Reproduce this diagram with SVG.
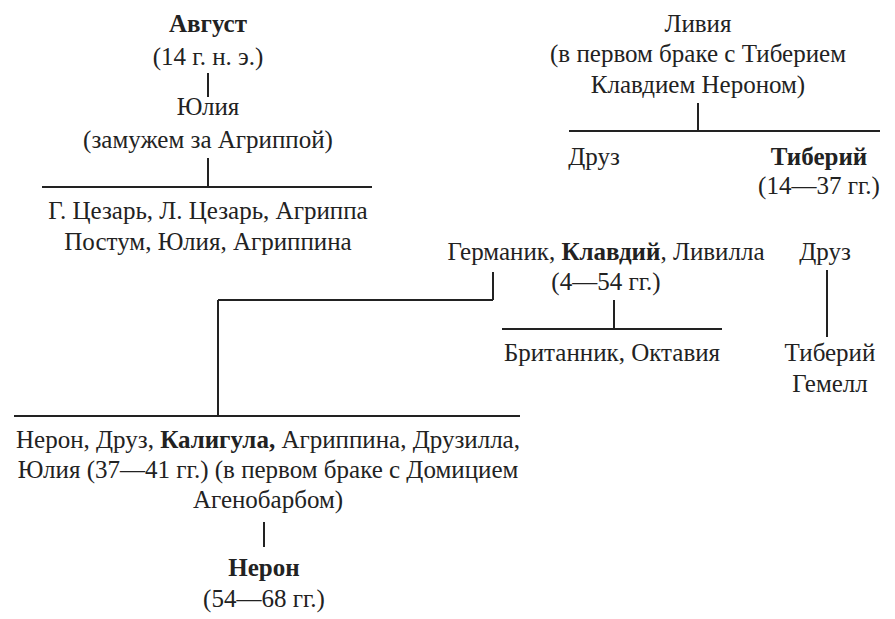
<svg xmlns="http://www.w3.org/2000/svg" width="895" height="619" viewBox="0 0 895 619">
<style>
text{font-family:"Liberation Serif","Times New Roman",serif;font-size:25px;fill:#222;text-anchor:middle}
.b{font-weight:bold}
#connectors line{stroke:#222;stroke-width:2}
</style>
<rect width="895" height="619" fill="#fff"/>
<g id="connectors">
<line x1="208" y1="73" x2="208" y2="97"/>
<line x1="208" y1="158" x2="208" y2="187"/>
<line x1="42" y1="187" x2="372" y2="187"/>
<line x1="698" y1="103" x2="698" y2="131"/>
<line x1="569" y1="131" x2="880" y2="131"/>
<line x1="493" y1="272" x2="493" y2="300"/>
<line x1="218" y1="300" x2="493" y2="300"/>
<line x1="218" y1="300" x2="218" y2="416"/>
<line x1="14" y1="416" x2="520" y2="416"/>
<line x1="614" y1="300" x2="614" y2="329"/>
<line x1="502" y1="329" x2="722" y2="329"/>
<line x1="827" y1="270" x2="827" y2="337"/>
<line x1="264" y1="522" x2="264" y2="547"/>
</g>
<g id="avgust"><text x="208" y="32" class="b">Август</text><text x="208" y="65">(14 г. н. э.)</text></g>
<g id="yulia"><text x="208" y="115">Юлия</text><text x="208" y="148">(замужем за Агриппой)</text></g>
<g id="children1"><text x="208" y="219">Г. Цезарь, Л. Цезарь, Агриппа</text><text x="208" y="250">Постум, Юлия, Агриппина</text></g>
<g id="livia"><text x="698" y="32">Ливия</text><text x="698" y="62">(в первом браке с Тиберием</text><text x="698" y="93">Клавдием Нероном)</text></g>
<g id="druz1"><text x="594" y="165">Друз</text></g>
<g id="tiberiy"><text x="819" y="165" class="b">Тиберий</text><text x="819" y="194">(14—37 гг.)</text></g>
<g id="germanik"><text x="606" y="260">Германик, <tspan class="b">Клавдий</tspan>, Ливилла</text><text x="606" y="290">(4—54 гг.)</text></g>
<g id="druz2"><text x="825" y="260">Друз</text></g>
<g id="britannik"><text x="612" y="361">Британник, Октавия</text></g>
<g id="gemell"><text x="830" y="361">Тиберий</text><text x="830" y="392">Гемелл</text></g>
<g id="children2"><text x="268" y="448">Нерон, Друз, <tspan class="b">Калигула,</tspan> Агриппина, Друзилла,</text><text x="268" y="478">Юлия (37—41 гг.) (в первом браке с Домицием</text><text x="268" y="508">Агенобарбом)</text></g>
<g id="neron"><text x="264" y="576" class="b">Нерон</text><text x="264" y="607">(54—68 гг.)</text></g>
</svg>
